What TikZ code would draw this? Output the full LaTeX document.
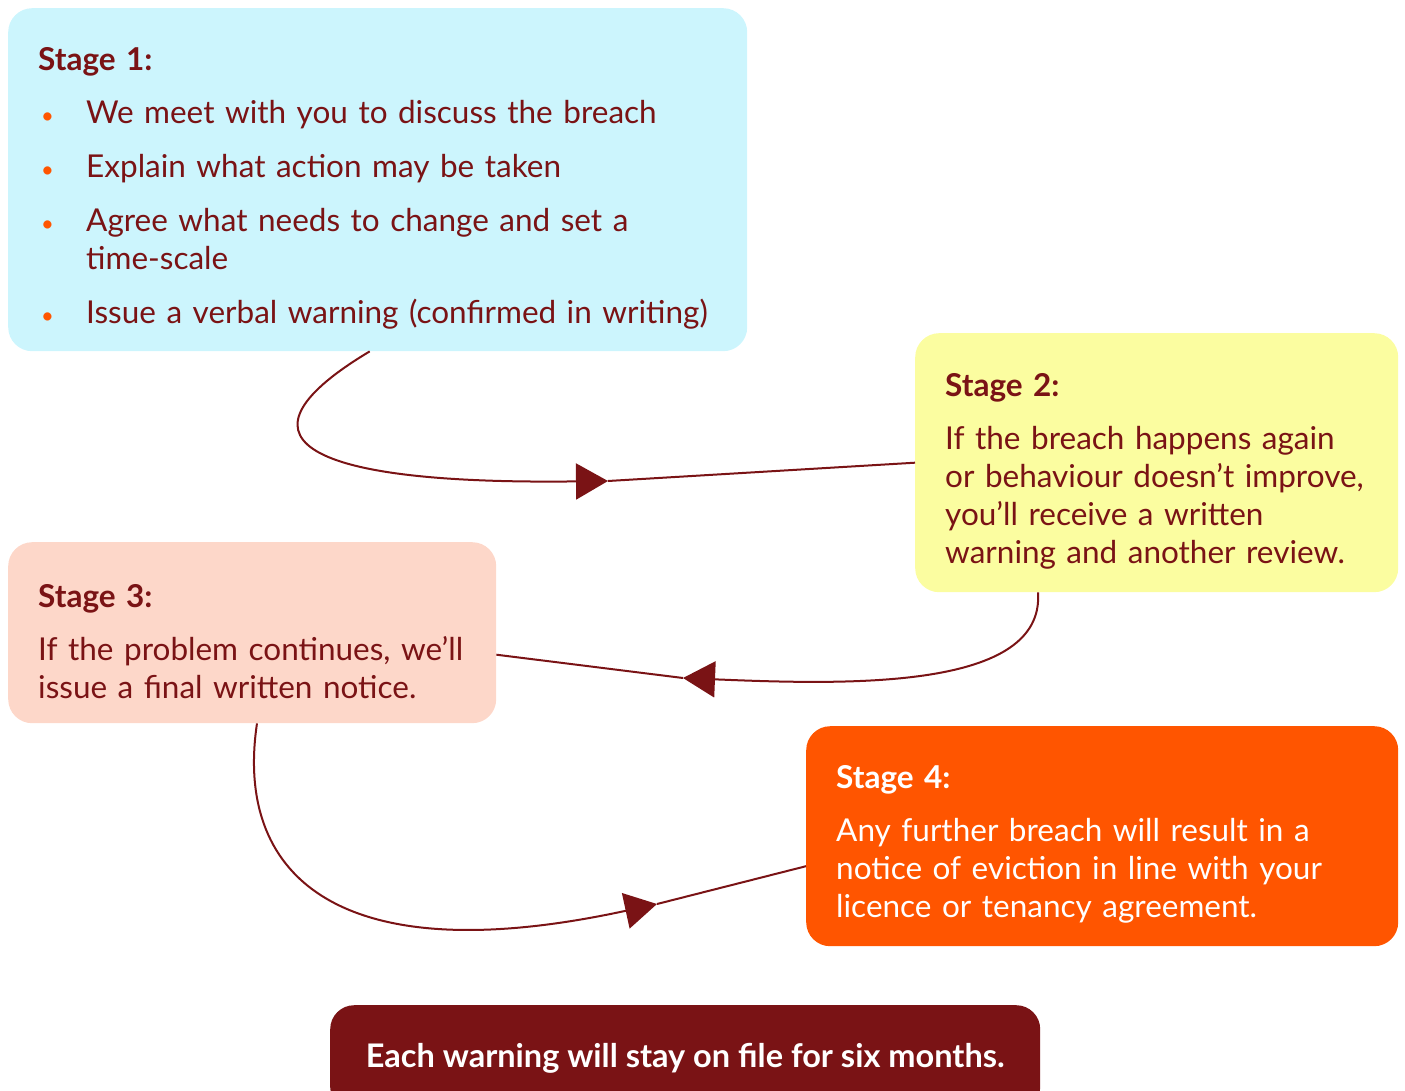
\documentclass[tikz,border=0pt]{standalone}
\usepackage{fontspec}
\setmainfont{Lato}
\usetikzlibrary{positioning,arrows.meta}
\definecolor{darkred}{HTML}{7A1315}
\definecolor{paleblue}{HTML}{CCF5FD}
\definecolor{paleyellow}{HTML}{FBFDA0}
\definecolor{peach}{HTML}{FDD7C9}
\definecolor{brightorange}{HTML}{FF5500}
\newcommand{\stagebullet}{\makebox[48pt][l]{\hspace{3pt}\textcolor{brightorange}{\scalebox{0.7}{\textbullet}}}}
\newcommand{\topgap}{\rule{0pt}{40pt}}
\tikzset{%
  stage/.style={
    rectangle,
    rounded corners=24pt,
    anchor=north west,
    align=left,
    inner xsep=30pt,
    inner ysep=0pt,
    text=darkred,
    font=\fontsize{31.5}{38}\selectfont
  },
  link/.style={
    darkred,
    line width=2pt
  },
  tip/.style={
    -{Triangle[length=32pt,width=36pt]}
  },
}

\begin{document}
\begin{tikzpicture}[x=1pt, y=-1pt]
\useasboundingbox (0,0) rectangle (1405,1091);

    \node[stage, fill=paleblue, text width=679pt, minimum height=343pt] (s1) at (8,8)
        {\topgap{\bfseries Stage 1:}\\[15pt]
         \stagebullet We meet with you to discuss the breach\\[16pt]
         \stagebullet Explain what action may be taken\\[16pt]
         \stagebullet Agree what needs to change and set a\\
         \hspace*{48pt}time-scale\\[16pt]
         \stagebullet Issue a verbal warning (confirmed in writing)};
    \node[stage, fill=paleyellow, text width=423pt, minimum height=259pt] (s2) at (915,333)
        {\topgap{\bfseries Stage 2:}\\[15pt]
         If the breach happens again\\
         or behaviour doesn’t improve,\\
         you’ll receive a written\\
         warning and another review.};
    \node[stage, fill=peach, text width=428pt, minimum height=181pt] (s3) at (8,542)
        {\topgap{\bfseries Stage 3:}\\[15pt]
         If the problem continues, we’ll\\
         issue a final written notice.};
    \node[stage, fill=brightorange, text=white, text width=532pt, minimum height=220pt] (s4) at (806,726)
        {\topgap{\bfseries Stage 4:}\\[15pt]
         Any further breach will result in a\\
         notice of eviction in line with your\\
         licence or tenancy agreement.};
    \node[stage, fill=darkred, text=white, align=center, minimum width=710pt, minimum height=106pt,
          font=\fontsize{32.5}{38}\selectfont] (note) at (330,1005)
        {\bfseries Each warning will stay on file for six months.};

    \coordinate (m1) at (608,481);
    \coordinate (m2) at (683,678);
    \coordinate (m3) at (657,904);

    \draw[link, tip] ([xshift=-8pt]s1.south) .. controls (230,435) and (290,485) .. (m1);
    \draw[link] (m1) -- (s2.west);
    \draw[link, tip] ([xshift=123pt]s2.south west) .. controls (1045,690) and (850,685) .. (m2);
    \draw[link] (m2) -- ([yshift=-22pt]s3.east);
    \draw[link, tip] ([xshift=249pt]s3.south west) .. controls (235,870) and (330,975) .. (m3);
    \draw[link] (m3) -- ([yshift=-30pt]s4.west);
\end{tikzpicture}
\end{document}
